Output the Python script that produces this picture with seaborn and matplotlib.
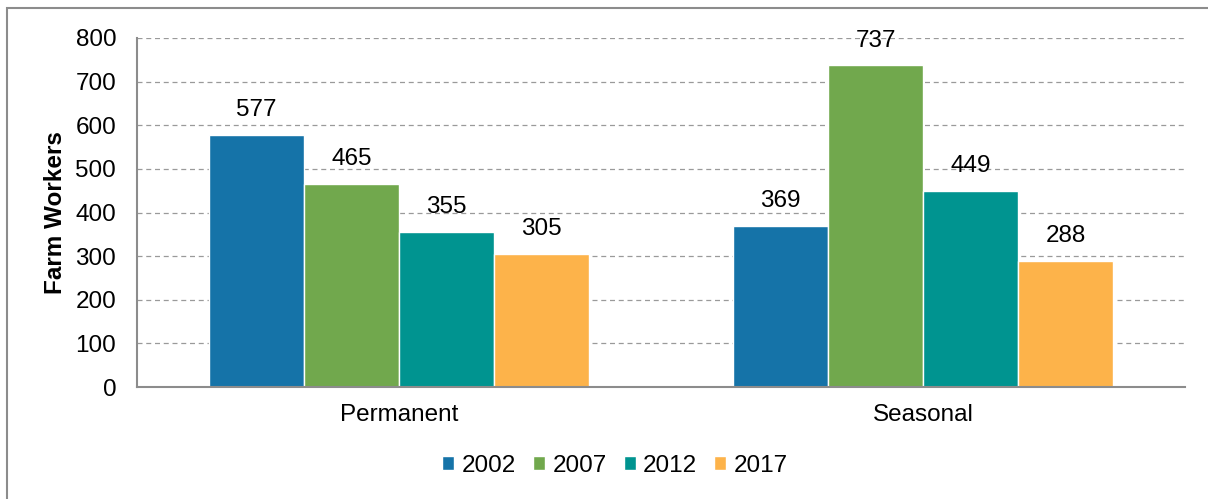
import matplotlib
matplotlib.use("Agg")
import matplotlib.pyplot as plt
import seaborn as sns
import pandas as pd
from matplotlib.patches import Rectangle

categories = ["Permanent", "Seasonal"]
years = ["2002", "2007", "2012", "2017"]
permanent = [577, 465, 355, 305]
seasonal = [369, 737, 449, 288]
colors = ["#1573A8", "#71A84D", "#009490", "#FDB34A"]

rows = []
for cat, vals in zip(categories, [permanent, seasonal]):
    for yr, v in zip(years, vals):
        rows.append({"type": cat, "year": yr, "workers": v})
df = pd.DataFrame(rows)

sns.set_style("white")
plt.rcParams["font.family"] = ["Liberation Sans", "DejaVu Sans"]
plt.rcParams["text.color"] = "black"
plt.rcParams["axes.labelcolor"] = "black"
fs = 17.5

fig = plt.figure(figsize=(12.08, 4.99), dpi=100)
ax = fig.add_axes([137 / 1208, 1 - 387 / 499, (1185 - 137) / 1208, (387 - 38) / 499])

sns.barplot(data=df, x="type", y="workers", hue="year", palette=colors,
            width=0.725, edgecolor="white", linewidth=1, saturation=1,
            errorbar=None, ax=ax)

for c in ax.containers:
    ax.bar_label(c, fmt="%d", padding=10, fontsize=fs, color="black")

ax.set_ylim(0, 800)
ax.set_xlim(-0.5, 1.5)
ax.set_yticks(range(0, 801, 100))
ax.yaxis.grid(True, linestyle=(0, (4, 3)), color="#9a9a9a", linewidth=0.9)
ax.set_axisbelow(True)
for s in ["top", "right"]:
    ax.spines[s].set_visible(False)
for s in ["left", "bottom"]:
    ax.spines[s].set_color("#8c8c8c")
    ax.spines[s].set_linewidth(1.5)

ax.tick_params(axis="y", length=5, color="#8c8c8c", labelcolor="black", labelsize=fs, pad=10)
ax.tick_params(axis="x", which="major", length=0, labelcolor="black", labelsize=fs, pad=12)
ax.set_xticks([-0.5, 0.5, 1.5], minor=True)
ax.tick_params(axis="x", which="minor", length=6, color="#8c8c8c", width=1.2)
ax.set_xlabel("")
ax.set_ylabel("Farm Workers", fontsize=fs, fontweight="bold", labelpad=6, color="black")

ax.legend(loc="center", bbox_to_anchor=(615 / 1208, 1 - 466 / 499),
          bbox_transform=fig.transFigure, ncol=4, frameon=False,
          fontsize=fs, handlelength=0.5, handleheight=0.5,
          handletextpad=0.3, columnspacing=0.7)

fig.patches.append(Rectangle((7 / 1208, -0.1), 1.2, 1.1 - 8 / 499,
                             transform=fig.transFigure, fill=False,
                             edgecolor="#8c8c8c", linewidth=1.5))

fig.savefig("out.png", dpi=100)
